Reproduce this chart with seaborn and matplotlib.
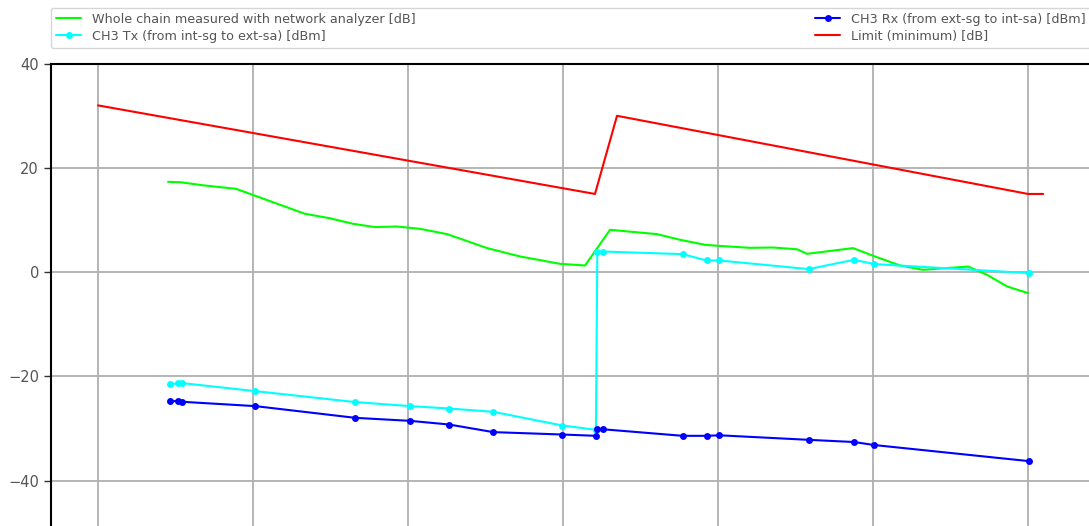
import matplotlib
matplotlib.use("Agg")
import matplotlib.pyplot as plt
import seaborn as sns
import pandas as pd

# Frequency axis in grid units (one vertical grid line per unit)
chain_freq = [0.452, 0.535, 0.677, 0.890, 1.335, 1.497, 1.645, 1.787, 1.929, 2.077,
              2.252, 2.510, 2.723, 2.981, 3.142, 3.303, 3.606, 3.755, 3.916, 4.000,
              4.206, 4.355, 4.510, 4.574, 4.871, 5.000, 5.174, 5.323, 5.613, 5.735,
              5.865, 6.000]
chain_gain = [17.33, 17.24, 16.66, 15.99, 11.19, 10.33, 9.27, 8.64, 8.75, 8.31,
              7.29, 4.61, 3.00, 1.59, 1.27, 8.12, 7.29, 6.20, 5.24, 5.05,
              4.66, 4.72, 4.38, 3.51, 4.61, 3.13, 1.27, 0.44, 1.07, -0.52,
              -2.76, -4.03]

meas_freq = [0.465, 0.518, 0.544, 1.015, 1.660, 2.015, 2.265, 2.550, 2.995, 3.212,
             3.221, 3.260, 3.772, 3.926, 4.008, 4.584, 4.877, 5.008, 6.006]
tx_power = [-21.57, -21.31, -21.31, -22.84, -24.95, -25.72, -26.18, -26.81, -29.44, -30.27,
            3.95, 3.95, 3.45, 2.23, 2.23, 0.58, 2.36, 1.54, -0.19]
rx_power = [-24.76, -24.76, -24.89, -25.72, -27.97, -28.55, -29.25, -30.71, -31.17, -31.42,
            -30.13, -30.17, -31.42, -31.42, -31.32, -32.19, -32.61, -33.19, -36.28]

limit_freq = [0.0, 3.206, 3.348, 6.000, 6.097]
limit_gain = [32.0, 15.0, 30.0, 15.0, 15.0]

labels = ["Whole chain measured with network analyzer [dB]",
          "CH3 Tx (from int-sg to ext-sa) [dBm]",
          "CH3 Rx (from ext-sg to int-sa) [dBm]",
          "Limit (minimum) [dB]"]
y_ticks = [-40, -20, 0, 20, 40]

sns.set_style("white")
plt.rcParams["font.family"] = ["DejaVu Sans"]

fig = plt.figure(figsize=(10.89, 5.26), dpi=100)
ax = fig.add_axes([0.0466, -0.0126, 0.9547, 0.8915])

chain = pd.DataFrame({"f": chain_freq, "v": chain_gain})
tx = pd.DataFrame({"f": meas_freq, "v": tx_power})
rx = pd.DataFrame({"f": meas_freq, "v": rx_power})
lim = pd.DataFrame({"f": limit_freq, "v": limit_gain})

sns.lineplot(data=chain, x="f", y="v", color="#00ff00", lw=1.5,
             estimator=None, sort=False, label=labels[0], ax=ax)
sns.lineplot(data=tx, x="f", y="v", color="#00ffff", lw=1.5, marker="o",
             markersize=5, markeredgewidth=0, estimator=None, sort=False,
             label=labels[1], ax=ax)
sns.lineplot(data=rx, x="f", y="v", color="#0000ff", lw=1.5, marker="o",
             markersize=5, markeredgewidth=0, estimator=None, sort=False,
             label=labels[2], ax=ax)
sns.lineplot(data=lim, x="f", y="v", color="#ff0000", lw=1.5,
             estimator=None, sort=False, label=labels[3], ax=ax)

ax.set_ylim(-50, 40)
ax.set_yticks(y_ticks)
ax.set_xticks(range(0, 7))
ax.margins(x=0.05)
ax.set_xlabel("")
ax.set_ylabel("")
ax.grid(True, color="#b0b0b0", lw=1.3)
ax.set_axisbelow(True)
for side in ["left", "top"]:
    ax.spines[side].set_color("black")
    ax.spines[side].set_linewidth(1.5)
ax.tick_params(axis="y", left=True, length=5, width=1, color="#333333",
               labelsize=10.5, labelcolor="#555555")
ax.tick_params(axis="x", bottom=False, labelbottom=False)

leg = ax.legend(loc="lower left", bbox_to_anchor=(0, 1.034, 1, 0.1), ncol=2,
                mode="expand", borderaxespad=0, fontsize=9.2, labelspacing=0.3,
                frameon=True, fancybox=True, edgecolor="#cccccc", framealpha=0.8)
for t in leg.get_texts():
    t.set_color("#555555")

fig.savefig("out.png", dpi=100)
